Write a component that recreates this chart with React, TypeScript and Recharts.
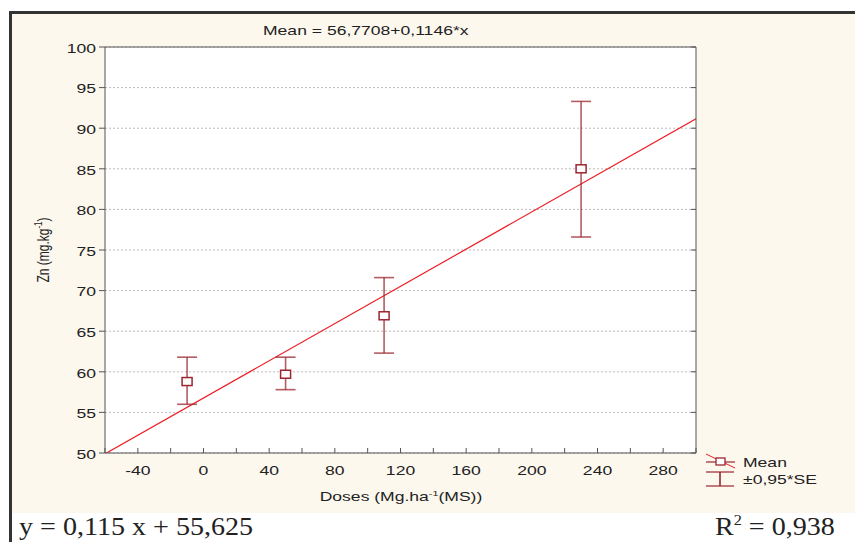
import React from 'react';
import {
  ComposedChart,
  Scatter,
  ErrorBar,
  XAxis,
  YAxis,
  CartesianGrid,
  ReferenceLine,
  Legend
} from 'recharts';

// doses (x) and Zn means with their ±0.95*SE limits
const doses = [-10, 50, 110, 230];
const meanZn = [58.8, 59.7, 66.9, 85.0];
const upperZn = [61.8, 61.8, 71.6, 93.3];
const lowerZn = [56.0, 57.8, 62.3, 76.6];

const xTicks = [-60, -40, -20, 0, 20, 40, 60, 80, 100, 120, 140, 160, 180, 200, 220, 240, 260, 280, 300];
const xLabels = [-40, 0, 40, 80, 120, 160, 200, 240, 280];
const yTicks = [50, 55, 60, 65, 70, 75, 80, 85, 90, 95, 100];

// fitted line: Mean = 56,7708 + 0,1146*x
const intercept = 56.7708;
const slope = 0.1146;

const legendItems = ['Mean', '±0,95*SE'];

const xDomain = [-60, 300];
const yDomain = [50, 100];

const SANS = '"Liberation Sans", Arial, sans-serif';
const SERIF = '"Liberation Serif", "Times New Roman", serif';
const STRETCH = 1.35;
const AXIS = '#555';
const DARK_RED = '#9b2530';
const LINE_RED = '#ec1c24';

const points = doses.map((d, i) => ({
  x: d,
  y: meanZn[i],
  err: [meanZn[i] - lowerZn[i], upperZn[i] - meanZn[i]]
}));

function YTick({ x, y, payload }: any) {
  return (
    <g transform={`translate(${x},${y})`}>
      <text transform={`scale(${STRETCH},1)`} textAnchor="end" dy="0.45em" fontSize={13} fill="#222" fontFamily={SANS}>
        {payload.value}
      </text>
    </g>
  );
}

function XTick({ x, y, payload }: any) {
  if (!xLabels.includes(payload.value)) return <g />;
  return (
    <g transform={`translate(${x},${y})`}>
      <text transform={`scale(${STRETCH},1)`} textAnchor="middle" dy="0.71em" fontSize={13} fill="#222" fontFamily={SANS}>
        {payload.value}
      </text>
    </g>
  );
}

const NoTick = () => <g />;

function MeanMarker({ cx, cy }: any) {
  return <rect x={cx - 5} y={cy - 4} width={10} height={8} fill="#fff" stroke={DARK_RED} strokeWidth={1.5} />;
}

function LegendBox() {
  return (
    <svg width={140} height={42} style={{ display: 'block' }}>
      <line x1={6} y1={4} x2={35} y2={18} stroke={LINE_RED} strokeWidth={1} />
      <line x1={6} y1={12} x2={35} y2={12} stroke={DARK_RED} strokeWidth={1.2} />
      <rect x={16} y={8} width={9} height={7} fill="#fff" stroke={DARK_RED} strokeWidth={1.3} />
      <text transform={`translate(43,16.5) scale(${STRETCH},1)`} fontSize={13} fill="#222" fontFamily={SANS}>{legendItems[0]}</text>
      <line x1={6} y1={22} x2={34} y2={22} stroke={DARK_RED} strokeWidth={1.2} />
      <line x1={20} y1={22} x2={20} y2={36} stroke={DARK_RED} strokeWidth={1.6} />
      <line x1={6} y1={36} x2={34} y2={36} stroke={DARK_RED} strokeWidth={1.2} />
      <text transform={`translate(43,33.5) scale(${STRETCH},1)`} fontSize={13} fill="#222" fontFamily={SANS}>{legendItems[1]}</text>
    </svg>
  );
}

export default function App() {
  return (
    <div style={{ position: 'absolute', left: 0, top: 0, width: 855, height: 542, background: '#fff', overflow: 'hidden' }}>
      {/* frame + cream panel */}
      <div style={{ position: 'absolute', left: 12, top: 14, width: 843, height: 499, background: '#fdf8ee' }} />
      <div style={{ position: 'absolute', left: 9, top: 11, width: 846, height: 531, borderTop: '3px solid #333', borderLeft: '3px solid #333', boxSizing: 'border-box' }} />

      <div style={{ position: 'absolute', left: 0, top: 0 }}>
        <ComposedChart width={855} height={542} margin={{ top: 42, right: 154, bottom: 59, left: 60 }}>
          <CartesianGrid vertical={false} stroke="#c2b9b9" strokeDasharray="2 2" fill="#fff" fillOpacity={1} />
          <XAxis
            type="number"
            dataKey="x"
            domain={xDomain}
            ticks={xTicks}
            allowDataOverflow
            height={30}
            tickSize={-5}
            tickMargin={18}
            tick={<XTick />}
            interval={0}
            axisLine={{ stroke: AXIS }}
            tickLine={{ stroke: AXIS }}
          />
          <XAxis
            xAxisId="top"
            orientation="top"
            type="number"
            domain={xDomain}
            ticks={xTicks}
            allowDataOverflow
            height={5}
            tickSize={-5}
            tick={NoTick}
            interval={0}
            axisLine={{ stroke: AXIS }}
            tickLine={{ stroke: AXIS }}
          />
          <YAxis
            type="number"
            dataKey="y"
            domain={yDomain}
            ticks={yTicks}
            allowDataOverflow
            width={45}
            tickSize={6}
            tickMargin={3}
            tick={<YTick />}
            interval={0}
            axisLine={{ stroke: AXIS }}
            tickLine={{ stroke: AXIS }}
          />
          <YAxis
            yAxisId="r"
            orientation="right"
            type="number"
            domain={yDomain}
            ticks={yTicks}
            allowDataOverflow
            width={5}
            tickSize={-5}
            tick={NoTick}
            interval={0}
            axisLine={{ stroke: AXIS }}
            tickLine={{ stroke: AXIS }}
          />
          <ReferenceLine
            segment={[
              { x: xDomain[0], y: intercept + slope * xDomain[0] },
              { x: xDomain[1], y: intercept + slope * xDomain[1] }
            ]}
            stroke={LINE_RED}
            strokeWidth={1.2}
            ifOverflow="hidden"
          />
          <Scatter name="Mean" data={points} shape={<MeanMarker />} isAnimationActive={false}>
            <ErrorBar dataKey="err" direction="y" width={10} stroke={DARK_RED} strokeWidth={1.6} strokeOpacity={0.75} isAnimationActive={false} />
          </Scatter>
          <Legend
            layout="vertical"
            align="center"
            verticalAlign="middle"
            content={<LegendBox />}
            wrapperStyle={{ left: 700, top: 450, width: 140, height: 42 }}
          />
        </ComposedChart>
      </div>

      {/* titles and equations */}
      <svg width={855} height={542} style={{ position: 'absolute', left: 0, top: 0, pointerEvents: 'none' }}>
        <text transform={`translate(263,35) scale(${STRETCH},1)`} fontSize={13} fill="#222" fontFamily={SANS}>
          Mean = 56,7708+0,1146*x
        </text>
        <text transform={`translate(401,501) scale(${STRETCH},1)`} textAnchor="middle" fontSize={13} fill="#222" fontFamily={SANS}>
          Doses (Mg.ha<tspan dy={-5} fontSize={8}>-1</tspan><tspan dy={5}>(MS))</tspan>
        </text>
        <text transform={`translate(49,250) scale(${STRETCH},1) rotate(-90)`} textAnchor="middle" fontSize={12} fill="#222" fontFamily={SANS}>
          Zn (mg.kg<tspan dy={-5} fontSize={8}>-1</tspan><tspan dy={5}>)</tspan>
        </text>
        <text transform="translate(19,535) scale(1.08,1)" fontSize={26} fill="#222" fontFamily={SERIF}>
          y = 0,115 x + 55,625
        </text>
        <text transform="translate(715,535) scale(1.08,1)" fontSize={26} fill="#222" fontFamily={SERIF}>
          R<tspan dy={-10} fontSize={15}>2</tspan><tspan dy={10}> = 0,938</tspan>
        </text>
      </svg>
    </div>
  );
}
